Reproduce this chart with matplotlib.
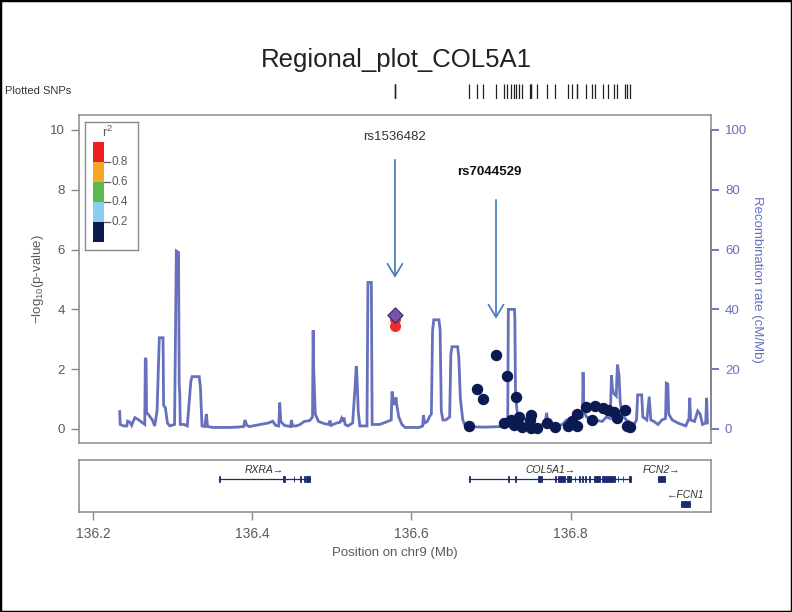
import numpy as np
import matplotlib
matplotlib.use('Agg')
import matplotlib.pyplot as plt
from matplotlib.patches import Rectangle

plt.rcParams['font.family'] = ['Liberation Sans', 'DejaVu Sans']
plt.rcParams['mathtext.fontset'] = 'custom'
plt.rcParams['mathtext.rm'] = 'Liberation Sans'

# ---- data ----
lead_pos = 136.5792
lead_p = 3.81
red_pos = [136.5792, 136.5792]
red_p = [3.68, 3.43]
navy_pos = [136.6727, 136.6828, 136.6903, 136.7063, 136.7197, 136.7314, 136.7164,
            136.7248, 136.7289, 136.7356, 136.7386, 136.7499, 136.7491, 136.7499,
            136.7582, 136.7701, 136.7805, 136.7972, 136.8015, 136.8078, 136.8086,
            136.8191, 136.8267, 136.8312, 136.8413, 136.8475, 136.8547, 136.8581,
            136.8686, 136.8707, 136.8748]
navy_p = [0.11, 1.33, 0.99, 2.46, 1.78, 1.06, 0.21,
          0.30, 0.13, 0.39, 0.06, 0.47, 0.30, 0.02,
          0.02, 0.21, 0.08, 0.10, 0.28, 0.49, 0.10,
          0.75, 0.30, 0.78, 0.71, 0.64, 0.58, 0.36,
          0.64, 0.10, 0.08]

rec_pos = [136.2330, 136.2336, 136.2380, 136.2420, 136.2430, 136.2460, 136.2480,
           136.2520, 136.2560, 136.2600, 136.2645, 136.2652, 136.2662, 136.2668,
           136.2700, 136.2740, 136.2770, 136.2800, 136.2828, 136.2875, 136.2882,
           136.2905, 136.2930, 136.2960, 136.3020, 136.3042, 136.3070, 136.3078,
           136.3085, 136.3092, 136.3140, 136.3180, 136.3225, 136.3240, 136.3330,
           136.3345, 136.3365, 136.3400, 136.3420, 136.3435, 136.3500, 136.3700,
           136.3800, 136.3890, 136.3905, 136.3930, 136.3960, 136.4000, 136.4100,
           136.4200, 136.4255, 136.4290, 136.4330, 136.4343, 136.4356, 136.4400,
           136.4480, 136.4490, 136.4505, 136.4550, 136.4600, 136.4650, 136.4720,
           136.4755, 136.4763, 136.4770, 136.4790, 136.4830, 136.4900, 136.4960,
           136.4975, 136.4990, 136.5060, 136.5100, 136.5120, 136.5135, 136.5150,
           136.5165, 136.5200, 136.5260, 136.5290, 136.5305, 136.5315, 136.5330,
           136.5350, 136.5440, 136.5452, 136.5495, 136.5505, 136.5600, 136.5700,
           136.5745, 136.5755, 136.5770, 136.5790, 136.5805, 136.5815, 136.5840,
           136.5880, 136.5920, 136.6100, 136.6140, 136.6150, 136.6165, 136.6200,
           136.6225, 136.6250, 136.6265, 136.6280, 136.6345, 136.6360, 136.6375,
           136.6395, 136.6430, 136.6480, 136.6495, 136.6510, 136.6580, 136.6595,
           136.6615, 136.6645, 136.6680, 136.6900, 136.7150, 136.7210, 136.7218,
           136.7295, 136.7300, 136.7308, 136.7325, 136.7350, 136.7380, 136.7450,
           136.7500, 136.7550, 136.7600, 136.7680, 136.7700, 136.7715, 136.7750,
           136.7800, 136.7900, 136.7950, 136.8000, 136.8100, 136.8150, 136.8158,
           136.8168, 136.8200, 136.8300, 136.8400, 136.8450, 136.8500, 136.8515,
           136.8525, 136.8540, 136.8575, 136.8590, 136.8610, 136.8625, 136.8650,
           136.8700, 136.8800, 136.8830, 136.8845, 136.8895, 136.8910, 136.8960,
           136.8990, 136.9010, 136.9050, 136.9100, 136.9150, 136.9195, 136.9205,
           136.9225, 136.9235, 136.9280, 136.9350, 136.9400, 136.9450, 136.9490,
           136.9500, 136.9510, 136.9560, 136.9600, 136.9630, 136.9660, 136.9700,
           136.9712, 136.9722]
rec_rate = [5.8, 1.5, 1.0, 1.0, 2.6, 2.2, 1.2,
            3.8, 3.2, 2.4, 1.5, 23.8, 23.0, 5.5,
            4.5, 3.0, 1.0, 6.0, 30.5, 30.5, 8.0,
            7.0, 2.0, 1.0, 1.5, 59.5, 59.0, 15.0,
            12.0, 1.5, 1.5, 1.0, 16.0, 17.5, 17.5,
            14.0, 1.0, 0.8, 5.0, 0.8, 0.5, 0.5,
            0.6, 0.8, 3.0, 1.2, 0.8, 1.0, 1.5,
            2.0, 2.6, 1.2, 1.0, 8.8, 2.5, 1.2,
            0.8, 3.0, 1.0, 1.0, 1.5, 2.5, 2.8,
            4.0, 33.0, 20.0, 5.0, 2.5, 1.8, 1.5,
            2.8, 1.2, 2.0, 2.2, 3.5, 2.5, 3.8,
            1.5, 1.0, 2.0, 14.0, 21.0, 17.0, 6.0,
            1.0, 1.0, 49.0, 49.0, 1.5, 1.5, 2.5,
            3.0, 12.5, 10.0, 8.0, 10.5, 8.0, 4.0,
            1.5, 0.5, 0.5, 1.0, 4.5, 2.0, 2.5,
            4.0, 5.0, 33.0, 36.5, 36.5, 33.0, 6.0,
            3.0, 3.0, 4.0, 25.0, 27.5, 27.5, 24.0,
            10.0, 3.0, 0.8, 0.6, 0.8, 1.0, 40.0,
            40.0, 37.0, 12.0, 6.5, 3.0, 1.2, 1.5,
            1.0, 1.2, 1.0, 2.0, 5.4, 2.0, 1.5,
            1.0, 1.5, 3.0, 3.0, 3.5, 4.0, 19.0,
            6.0, 4.0, 3.0, 2.5, 4.0, 3.5, 18.0,
            14.0, 12.0, 11.0, 21.5, 18.0, 9.0, 5.0,
            3.0, 1.5, 3.0, 11.4, 11.4, 4.0, 3.0,
            10.8, 3.0, 2.5, 1.5, 3.0, 3.5, 15.3,
            15.0, 5.0, 3.0, 2.0, 1.5, 1.0, 3.5,
            10.4, 3.0, 2.5, 6.0, 5.0, 1.5, 2.0,
            10.4, 2.0]

gene_names = ['RXRA', 'COL5A1', 'FCN2', 'FCN1']
gene_start = [136.358, 136.6723, 136.9105, 136.9393]
gene_end = [136.4725, 136.8764, 136.9183, 136.9497]
gene_strand = ['+', '+', '+', '-']
gene_row = [0, 0, 0, 1]
gene_exons = [
    [(136.358, 136.3588), (136.4385, 136.4405), (136.452, 136.4528),
     (136.4598, 136.4606), (136.465, 136.466), (136.4675, 136.4725)],
    [(136.6723, 136.6731), (136.7216, 136.7224), (136.7305, 136.7313),
     (136.7586, 136.7639), (136.7808, 136.7816), (136.7848, 136.7927),
     (136.7953, 136.8005), (136.8054, 136.8062), (136.8106, 136.8114),
     (136.8143, 136.8151), (136.8184, 136.8192), (136.8237, 136.8245),
     (136.8293, 136.8372), (136.8398, 136.8555), (136.8593, 136.8601),
     (136.8656, 136.8664), (136.8738, 136.8764)],
    [(136.9105, 136.9183)],
    [(136.9393, 136.9497)],
]

r2_labels = ['0.2', '0.4', '0.6', '0.8']
r2_colors = ['#0c1a52', '#8ecbf0', '#5cb94b', '#f6a623', '#ee1c25']

xlim = (136.1818, 136.9767)
W, H = 792, 612
GRAY = '#8a8a8a'
TXT = '#5a5a5a'
REC = '#6670bd'
NAVY = '#0c1a52'
GENE = '#1c2b6e'


def box(l, t, r, b):
    return [l / W, 1 - b / H, (r - l) / W, (b - t) / H]


fig = plt.figure(figsize=(W / 100, H / 100), dpi=100)
fig.patch.set_facecolor('white')

# main panel
ax = fig.add_axes(box(79, 115, 711, 443))
ax2 = ax.twinx()
ax2.plot(rec_pos, rec_rate, color=REC, lw=2.0, solid_joinstyle='miter')
ax2.set_ylim(-4.7, 105)
ax.set_zorder(ax2.get_zorder() + 1)
ax.patch.set_visible(False)

ax.scatter(navy_pos, navy_p, s=52, color=NAVY, edgecolors=NAVY, zorder=3)
ax.scatter(red_pos, red_p, s=48, color='#ee2a2a', edgecolors='#ee2a2a', zorder=3)
ax.scatter([lead_pos], [lead_p], s=60, marker='D', color='#7a52a8',
           edgecolors='#3b2a5e', linewidths=0.8, zorder=4)

ax.set_xlim(*xlim)
ax.set_ylim(-0.47, 10.5)
ax.set_xticks([])
ax.set_yticks([0, 2, 4, 6, 8, 10])
ax.tick_params(axis='y', length=6, width=1, color=GRAY, labelcolor=TXT, labelsize=9.5, pad=4)
for s in ['left', 'top', 'bottom', 'right']:
    ax.spines[s].set_color(GRAY)
    ax.spines[s].set_linewidth(1.1)
ax.set_ylabel(r'$\mathregular{-log_{10}}$(p-value)', color=TXT, fontsize=9.5)
ax.yaxis.set_label_coords(-(79 - 46) / 632, 0.5)

for s in ['left', 'top', 'bottom']:
    ax2.spines[s].set_visible(False)
ax2.spines['right'].set_color(REC)
ax2.spines['right'].set_linewidth(1.3)
ax2.spines['right'].set_bounds(0, 100)
ax2.set_yticks([0, 20, 40, 60, 80, 100])
ax2.tick_params(axis='y', length=6, width=1.3, color=REC, labelcolor=REC, labelsize=9.5, pad=4)
ax2.set_ylabel('Recombination rate (cM/Mb)', color=REC, fontsize=9.5, rotation=270, va='bottom')
ax2.yaxis.set_label_coords((751 - 79) / 632, 0.5)

# arrows and snp names
arrow_col = '#4f81bd'
ax.annotate('', xy=(lead_pos, 5.05), xytext=(lead_pos, 9.0),
            arrowprops=dict(arrowstyle='->,head_length=0.5,head_width=0.3',
                            color=arrow_col, lw=1.3, mutation_scale=18, shrinkA=0, shrinkB=0))
ax.text(lead_pos, 9.75, 'rs1536482', ha='center', va='center', fontsize=9.5, color='#333333')
ax.annotate('', xy=(136.7063, 3.68), xytext=(136.7063, 7.66),
            arrowprops=dict(arrowstyle='->,head_length=0.5,head_width=0.3',
                            color=arrow_col, lw=1.3, mutation_scale=18, shrinkA=0, shrinkB=0))
ax.text(136.6975, 8.6, 'rs7044529', ha='center', va='center', fontsize=9.5,
        fontweight='bold', color='#111111')

# r2 legend
lg = fig.add_axes(box(85, 122, 138, 250))
lg.set_xlim(0, 53)
lg.set_ylim(128, 0)
lg.set_xticks([])
lg.set_yticks([])
for s in lg.spines.values():
    s.set_color(GRAY)
    s.set_linewidth(1)
for i, c in enumerate(r2_colors):
    top = 100 - 20 * i
    lg.add_patch(Rectangle((8, top), 11, 20, facecolor=c, edgecolor='none'))
for i, lab in enumerate(r2_labels):
    yy = 100 - 20 * i
    lg.plot([19, 25], [yy, yy], color=TXT, lw=0.9)
    lg.text(26, yy, lab, va='center', ha='left', fontsize=8.5, color=TXT)
lg.text(23, 10, r'r$^2$', ha='center', va='center', fontsize=9.5, color=TXT)

# plotted snp ticks
sx = fig.add_axes(box(79, 84, 711, 99))
sx.set_xlim(*xlim)
sx.set_ylim(0, 1)
sx.axis('off')
all_pos = [lead_pos] + red_pos + navy_pos
sx.vlines(all_pos, 0, 1, color='#222222', lw=0.9)
fig.text(5 / W, 1 - 91 / H, 'Plotted SNPs', fontsize=8, color='#333333', va='center')

# gene panel
gx = fig.add_axes(box(79, 460, 711, 512))
gx.set_xlim(*xlim)
gx.set_ylim(52, 0)
gx.set_yticks([])
gx.set_xticks([136.2, 136.4, 136.6, 136.8])
gx.set_xticklabels(['136.2', '136.4', '136.6', '136.8'])
gx.tick_params(axis='x', length=6, width=1, color=GRAY, labelcolor=TXT, labelsize=10, pad=5)
for s in gx.spines.values():
    s.set_color(GRAY)
    s.set_linewidth(1.1)
gx.set_xlabel('Position on chr9 (Mb)', color=TXT, fontsize=9.5, labelpad=4)

row_y = [19, 44]
for name, st, en, strand, row, exons in zip(gene_names, gene_start, gene_end,
                                            gene_strand, gene_row, gene_exons):
    yy = row_y[row]
    gx.plot([st, en], [yy, yy], color=GENE, lw=0.9)
    for a, b in exons:
        gx.add_patch(Rectangle((a, yy - 3), b - a, 6, facecolor=GENE, edgecolor=GENE, lw=0.6))
    lab = name + '\u2192' if strand == '+' else '\u2190' + name
    gx.text((st + en) / 2, yy - 9, lab, ha='center', va='center', fontsize=7.5,
            style='italic', color='#333333')

fig.text(396 / W, 1 - 60 / H, 'Regional_plot_COL5A1', ha='center', va='center',
         fontsize=18.5, color='#222222')

fig.patches.append(Rectangle((0, 0), 1, 1, transform=fig.transFigure, fill=False,
                             edgecolor='black', lw=2.5))

fig.savefig('out.png', dpi=100)
